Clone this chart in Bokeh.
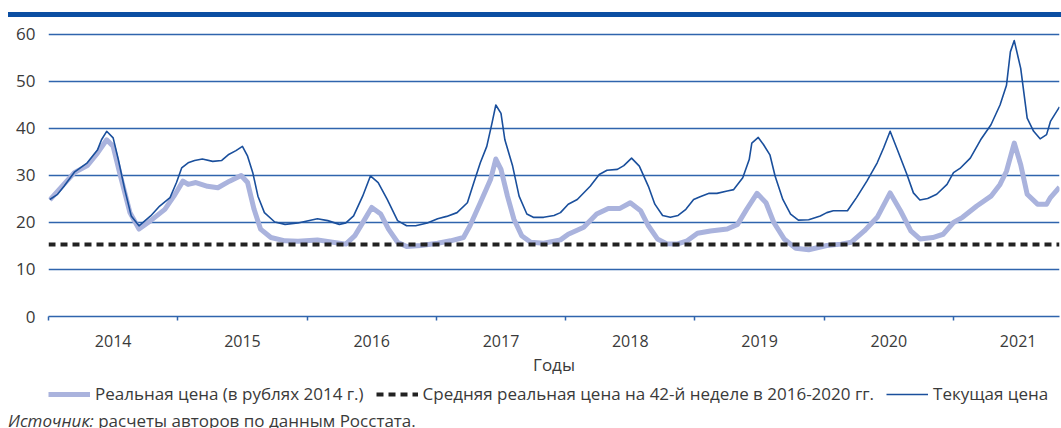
from bokeh.plotting import figure
from bokeh.models import (Range1d, FixedTicker, CustomJSTickFormatter, Legend, LegendItem, Div)
from bokeh.layouts import column
from bokeh.embed import file_html
from bokeh.resources import INLINE

# ---- data (fractional year, rubles) ----
cur_t = [2014.01, 2014.07, 2014.12, 2014.20, 2014.30, 2014.38, 2014.41, 2014.45, 2014.50, 2014.54,
         2014.59, 2014.64, 2014.70, 2014.79, 2014.86, 2014.94, 2014.99, 2015.03, 2015.08, 2015.13,
         2015.19, 2015.27, 2015.34, 2015.39, 2015.45, 2015.50, 2015.54, 2015.58, 2015.62, 2015.67,
         2015.75, 2015.83, 2015.93, 2016.08, 2016.16, 2016.25, 2016.30, 2016.36, 2016.43, 2016.49,
         2016.55, 2016.62, 2016.70, 2016.77, 2016.84, 2016.93, 2017.01, 2017.08, 2017.16, 2017.24,
         2017.29, 2017.34, 2017.39, 2017.43, 2017.46, 2017.50, 2017.53, 2017.59, 2017.64, 2017.70,
         2017.75, 2017.83, 2017.91, 2017.96, 2018.02, 2018.09, 2018.19, 2018.26, 2018.32, 2018.40,
         2018.45, 2018.51, 2018.57, 2018.64, 2018.69, 2018.75, 2018.81, 2018.87, 2018.93, 2018.99,
         2019.04, 2019.11, 2019.17, 2019.25, 2019.30, 2019.37, 2019.42, 2019.44, 2019.49, 2019.53,
         2019.58, 2019.62, 2019.68, 2019.74, 2019.80, 2019.88, 2019.97, 2020.02, 2020.07, 2020.18,
         2020.25, 2020.33, 2020.41, 2020.46, 2020.51, 2020.56, 2020.64, 2020.69, 2020.74, 2020.80,
         2020.87, 2020.95, 2021.00, 2021.05, 2021.13, 2021.21, 2021.29, 2021.36, 2021.41, 2021.44,
         2021.47, 2021.52, 2021.57, 2021.62, 2021.67, 2021.72, 2021.75, 2021.82]
cur_price = [24.9, 26.0, 27.7, 30.7, 32.7, 35.5, 37.6, 39.4, 38.0, 33.4,
             27.0, 21.4, 19.3, 21.4, 23.5, 25.3, 28.5, 31.6, 32.7, 33.2,
             33.5, 33.0, 33.2, 34.4, 35.3, 36.2, 34.1, 30.6, 25.6, 22.1,
             20.1, 19.6, 19.9, 20.8, 20.4, 19.6, 19.9, 21.4, 25.6, 29.9,
             28.5, 24.9, 20.4, 19.3, 19.3, 19.9, 20.8, 21.3, 22.1, 24.2,
             28.5, 32.7, 36.2, 41.1, 45.0, 43.2, 37.6, 32.0, 25.6, 21.8,
             21.1, 21.1, 21.5, 22.1, 23.9, 24.9, 27.7, 30.2, 31.1, 31.3,
             32.1, 33.7, 32.0, 27.7, 23.9, 21.5, 21.1, 21.5, 22.8, 24.9,
             25.5, 26.2, 26.2, 26.7, 27.0, 29.5, 33.4, 36.9, 38.1, 36.6,
             34.4, 29.9, 24.9, 21.8, 20.5, 20.6, 21.4, 22.1, 22.5, 22.5,
             25.3, 28.8, 32.7, 35.9, 39.4, 35.9, 30.2, 26.3, 24.8, 25.1,
             26.0, 28.1, 30.6, 31.5, 33.7, 37.6, 40.8, 45.0, 49.2, 56.3,
             58.7, 52.8, 42.2, 39.4, 37.8, 38.7, 41.5, 44.6]

real_t = [2014.01, 2014.20, 2014.30, 2014.38, 2014.45, 2014.50, 2014.55, 2014.63, 2014.70, 2014.79,
          2014.90, 2014.97, 2015.04, 2015.08, 2015.14, 2015.23, 2015.31, 2015.40, 2015.49, 2015.54,
          2015.59, 2015.64, 2015.72, 2015.83, 2015.93, 2016.08, 2016.25, 2016.30, 2016.37, 2016.44,
          2016.50, 2016.57, 2016.63, 2016.70, 2016.77, 2016.88, 2017.01, 2017.11, 2017.21, 2017.26,
          2017.34, 2017.42, 2017.46, 2017.50, 2017.55, 2017.60, 2017.66, 2017.73, 2017.83, 2017.96,
          2018.02, 2018.14, 2018.24, 2018.33, 2018.42, 2018.50, 2018.58, 2018.64, 2018.71, 2018.78,
          2018.86, 2018.94, 2019.02, 2019.12, 2019.25, 2019.33, 2019.40, 2019.48, 2019.55, 2019.61,
          2019.69, 2019.78, 2019.88, 2020.02, 2020.13, 2020.21, 2020.31, 2020.41, 2020.51, 2020.59,
          2020.67, 2020.74, 2020.84, 2020.92, 2021.00, 2021.07, 2021.18, 2021.29, 2021.36, 2021.41,
          2021.47, 2021.52, 2021.57, 2021.65, 2021.72, 2021.75, 2021.82]
real_price = [24.8, 30.6, 32.1, 34.8, 37.6, 36.2, 30.6, 22.1, 18.6, 20.4,
              22.8, 25.6, 28.8, 28.1, 28.5, 27.7, 27.4, 28.8, 30.0, 28.5,
              22.8, 18.6, 16.8, 16.1, 16.0, 16.3, 15.6, 15.4, 17.2, 20.4,
              23.2, 21.8, 18.6, 15.8, 14.9, 15.1, 15.6, 16.1, 16.8, 19.3,
              24.2, 29.2, 33.5, 31.3, 25.6, 20.7, 17.2, 15.8, 15.6, 16.3,
              17.5, 19.0, 21.8, 23.0, 23.0, 24.2, 22.5, 19.3, 16.5, 15.5,
              15.4, 16.1, 17.7, 18.2, 18.6, 19.6, 22.8, 26.2, 24.2, 20.0,
              16.5, 14.5, 14.2, 15.1, 15.4, 15.8, 18.2, 21.1, 26.3, 22.5,
              18.2, 16.5, 16.8, 17.5, 20.0, 21.1, 23.5, 25.6, 28.1, 30.9,
              36.9, 32.3, 26.0, 23.9, 23.9, 25.3, 27.5]

avg_real_week42 = 15.3
years = [2014, 2015, 2016, 2017, 2018, 2019, 2020, 2021]
y_ticks = [0, 10, 20, 30, 40, 50, 60]

label_real = "Реальная цена (в рублях 2014 г.)"
label_avg = "Средняя реальная цена на 42-й неделе в 2016-2020 гг."
label_cur = "Текущая цена"
x_title = "Годы"
src_italic = "Источник:"
src_text = "расчеты авторов по данным Росстата."

FONT = "Open Sans"
TXT = "#3a3a3a"
GRID = "#2f64ad"
DARK = "#1a4f9c"
LIGHT = "#aab3dd"
AVG = "#222222"

x0, x1 = 2014.0, 2021.82
W = 1061

# ---- top band ----
band = Div(text="", width=1053, height=5, margin=(12, 0, 0, 8),
           styles={"background-color": "#0b4ea2"})

# ---- main chart ----
p = figure(width=W, height=361, output_backend="svg", toolbar_location=None,
           x_range=Range1d(x0, x1), y_range=Range1d(0, 61.7),
           min_border_left=48, min_border_right=2, min_border_top=9, min_border_bottom=60)
p.outline_line_color = None
p.background_fill_color = None
p.border_fill_color = None

p.xaxis.ticker = FixedTicker(ticks=[y + 0.5 for y in years], minor_ticks=years)
p.xaxis.formatter = CustomJSTickFormatter(code="return Math.floor(tick).toString()")
p.xaxis.major_tick_line_color = None
p.xaxis.major_tick_out = 0
p.xaxis.major_tick_in = 0
p.xaxis.minor_tick_line_color = GRID
p.xaxis.minor_tick_out = 4
p.xaxis.minor_tick_in = 0
p.xaxis.minor_tick_line_width = 1.5
p.xaxis.axis_line_color = GRID
p.xaxis.axis_line_width = 1.5
p.xaxis.major_label_standoff = 14
p.xaxis.major_label_text_font = FONT
p.xaxis.major_label_text_font_size = "16px"
p.xaxis.major_label_text_color = TXT
p.xaxis.axis_label = x_title
p.xaxis.axis_label_text_font = FONT
p.xaxis.axis_label_text_font_style = "normal"
p.xaxis.axis_label_text_font_size = "17px"
p.xaxis.axis_label_text_color = TXT
p.xaxis.axis_label_standoff = 3

p.yaxis.ticker = FixedTicker(ticks=y_ticks)
p.yaxis.axis_line_color = None
p.yaxis.major_tick_line_color = None
p.yaxis.minor_tick_line_color = None
p.yaxis.major_tick_out = 0
p.yaxis.major_tick_in = 0
p.yaxis.major_label_standoff = 13
p.yaxis.major_label_text_font = FONT
p.yaxis.major_label_text_font_size = "17px"
p.yaxis.major_label_text_color = TXT

p.xgrid.grid_line_color = None
p.ygrid.grid_line_color = GRID
p.ygrid.grid_line_width = 1.3

real_style = dict(line_color=LIGHT, line_width=5, line_join="round")
avg_style = dict(line_color=AVG, line_width=4, line_dash="7 5")
cur_style = dict(line_color=DARK, line_width=1.6, line_join="round")

p.line(real_t, real_price, **real_style)
p.line([x0, x1], [avg_real_week42, avg_real_week42], **avg_style)
p.line(cur_t, cur_price, **cur_style)

# ---- legend strip (its frame is aligned with the chart's frame by the column) ----
lg = figure(width=W, height=32, output_backend="svg", toolbar_location=None,
            x_axis_type=None, y_axis_type=None, x_range=Range1d(0, 1), y_range=Range1d(0, 1),
            min_border_left=0, min_border_right=0, min_border_top=0, min_border_bottom=0)
lg.outline_line_color = None
lg.grid.grid_line_color = None
lg.background_fill_color = None
lg.border_fill_color = None
k_real = lg.line([-5], [-5], **real_style)
k_avg = lg.line([-5], [-5], **avg_style)
k_cur = lg.line([-5], [-5], **cur_style)
legend = Legend(items=[LegendItem(label=label_real, renderers=[k_real]),
                       LegendItem(label=label_avg, renderers=[k_avg]),
                       LegendItem(label=label_cur, renderers=[k_cur])],
                orientation="horizontal", location=(0, 5),
                label_text_font=FONT, label_text_font_size="17px", label_text_color=TXT,
                glyph_width=42, glyph_height=20, label_standoff=5, spacing=12,
                label_height=20, padding=0, margin=0, border_line_color=None,
                background_fill_alpha=0)
lg.add_layout(legend, "center")

# ---- source ----
src = Div(text=f"<i>{src_italic}</i> {src_text}", width=1053, height=18, margin=(0, 0, 0, 8),
          styles={"font-family": FONT, "font-size": "17px", "color": TXT,
                  "line-height": "21px", "white-space": "nowrap", "overflow": "visible"})

layout = column(band, p, lg, src, spacing=0)
open("out.html", "w").write(file_html(layout, INLINE))
